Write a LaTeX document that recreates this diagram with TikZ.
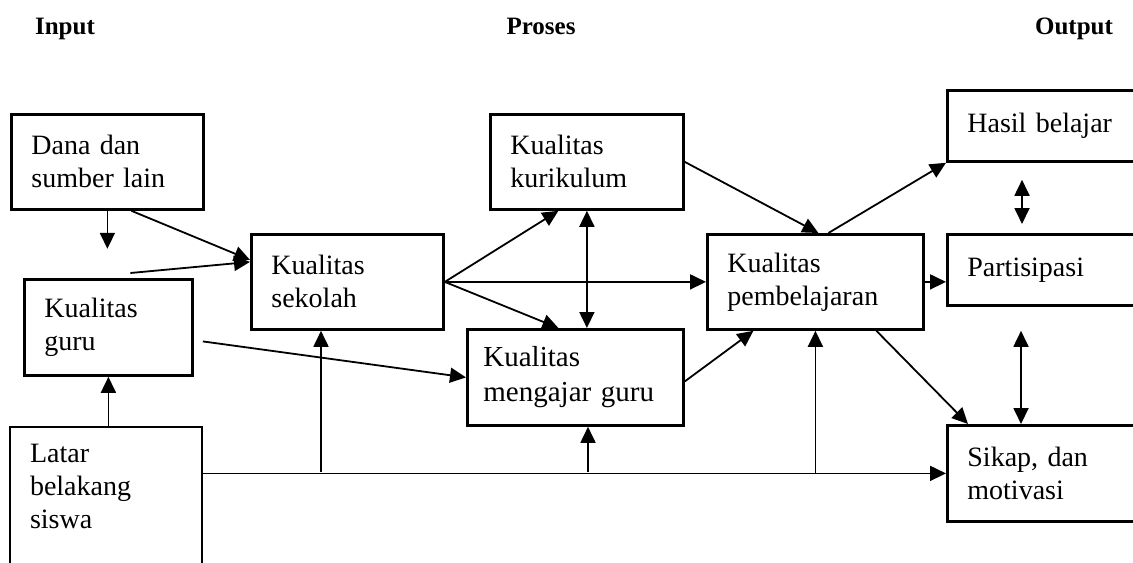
\documentclass[tikz,border=0pt]{standalone}
\usepackage{fontspec}
\setmainfont{Liberation Serif}
\usetikzlibrary{arrows.meta, positioning}

\begin{document}
\begin{tikzpicture}[
  x=0.5pt, y=-0.5pt,
  box/.style={rectangle, draw=black, line width=1.4pt, anchor=north west,
              align=left, inner xsep=10pt, inner ysep=0pt,
              minimum height=47.5pt, font=\fontsize{14}{16.5}\selectfont},
  title/.style={anchor=base, font=\bfseries\fontsize{12.5}{15}\selectfont},
  arr/.style={-{Triangle[length=8pt, width=7.5pt]}, line width=0.9pt},
  darr/.style={{Triangle[length=8pt, width=7.5pt]}-{Triangle[length=8pt, width=7.5pt]},
               line width=0.9pt}
]
\clip (0,0) rectangle (1133,562);

% --- Column headings ---
\node[title] (tin)  at (65,34)   {Input};
\node[title] (tpro) at (541,34)  {Proses};
\node[title] (tout) at (1074,34) {Output};

% --- Input ---
\node[box, text width=76pt] (dana) at (10,113) {Dana dan\\sumber lain};
\node[box, text width=64pt, minimum height=48pt] (guru) at (23,278) {Kualitas\\guru};
\node[box, text width=76pt, minimum height=59pt, draw=none, outer sep=0pt]
      (latar) at (10,427) {Latar\\belakang\\siswa};
\draw[line width=1.4pt] ([yshift=-20pt]latar.south west) -- (latar.north west)
      -- (latar.north east) -- ([yshift=-20pt]latar.south east);

% --- Proses ---
\node[box, text width=76pt] (sekolah) at (250,233) {Kualitas\\sekolah};
\node[box, text width=76.5pt] (kurikulum) at (489,113) {Kualitas\\kurikulum};
\node[box, text width=92pt, inner xsep=8pt, minimum height=48pt,
      font=\fontsize{14.5}{17.5}\selectfont]
      (mengajar) at (466,328) {Kualitas\\mengajar guru};
\node[box, text width=88pt] (pembelajaran) at (706,233) {Kualitas\\pembelajaran};

% --- Output ---
\node[box, text width=82pt, minimum height=35.5pt] (hasil) at (946,89) {Hasil belajar};
\node[box, text width=82pt, minimum height=35.5pt] (partisipasi) at (946,233) {Partisipasi};
\node[box, text width=82pt, minimum height=48pt] (sikap) at (946,424) {Sikap, dan\\motivasi};

% --- Input links ---
\draw[arr] (dana.south) -- ++(0,38);
\draw[arr] ([xshift=12pt]dana.south) -- ([yshift=11pt]sekolah.west);
\draw[arr] ([xshift=11pt, yshift=2.5pt]guru.north) -- ([yshift=10pt]sekolah.west);
\draw[arr] ([xshift=4.5pt, yshift=-7pt]guru.east) -- (mengajar.west);
\draw[arr] (guru.south |- latar.north) -- (guru.south);

% --- Student background bus ---
\coordinate (bus) at (latar.east |- sikap.west);
\draw[arr] (bus) -- (sikap.west);
\coordinate (b1) at (321,472);
\coordinate (b2) at (588,472);
\draw[arr] (b1) -- (b1 |- sekolah.south);
\draw[arr] (b2) -- (b2 |- mengajar.south);
\draw[arr] (pembelajaran.south |- bus) -- (pembelajaran.south);

% --- Proses links ---
\draw[arr] (sekolah.east) -- ([xshift=-14.25pt]kurikulum.south);
\draw[arr] (sekolah.east) -- (pembelajaran.west);
\draw[arr] (sekolah.east) -- ([xshift=-8.5pt]mengajar.north);
\draw[darr] (kurikulum.south) -- (kurikulum.south |- mengajar.north);
\draw[arr] (kurikulum.east) -- ([xshift=1.5pt]pembelajaran.north);
\draw[arr] ([yshift=-2pt]mengajar.east) -- ([xshift=-31pt]pembelajaran.south);

% --- Output links ---
\draw[arr] ([xshift=6.5pt]pembelajaran.north) -- (hasil.south west);
\draw[arr] (pembelajaran.east) -- (pembelajaran.east -| partisipasi.west);
\draw[arr] ([xshift=30.5pt]pembelajaran.south) -- ([xshift=11pt]sikap.north west);
\draw[darr] ([xshift=38pt, yshift=-8.5pt]hasil.south west)
      -- ([xshift=38pt, yshift=4.5pt]partisipasi.north west);
\draw[darr] ([xshift=37.5pt, yshift=-12pt]partisipasi.south west)
      -- (sikap.north west -| 1021,0);

\end{tikzpicture}
\end{document}
